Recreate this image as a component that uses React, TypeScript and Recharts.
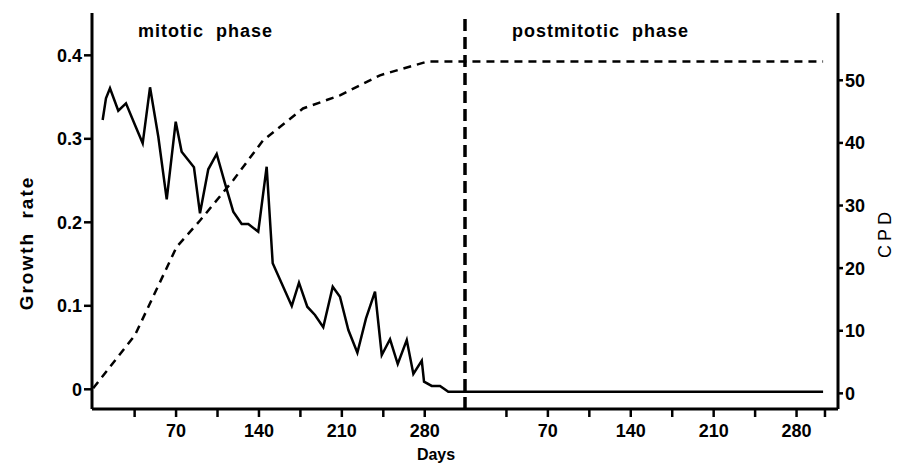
import React from 'react'
import { LineChart, Line, XAxis, YAxis, ReferenceLine } from 'recharts'

// day on which the mitotic phase ends (the dashed divider)
const phaseBoundary = 314

const growthDays = [
  8, 10.8, 14.2, 21.2, 27.7, 35.3, 41.8, 48, 55, 62.1, 69.7, 74.7, 85.1, 90.2, 97.2, 104.3, 111.3,
  118.3, 125.4, 131, 139.4, 146.5, 151.6, 167.7, 173.8, 180.8, 187.3, 194.3, 202.3, 208.4, 215.5,
  223.1, 230.4, 238, 243.7, 250.7, 257.2, 264.8, 270.4, 277.5, 279.4, 285.9, 292.9, 299.9, 616.4,
]
const growthRates = [
  0.3225, 0.3485, 0.3605, 0.3337, 0.3425, 0.3165, 0.2946, 0.3617, 0.3025, 0.2275, 0.3205, 0.2846,
  0.2659, 0.2108, 0.2635, 0.2818, 0.2467, 0.2127, 0.198, 0.198, 0.1887, 0.2666, 0.1509, 0.0998,
  0.1277, 0.0989, 0.089, 0.0743, 0.1229, 0.1109, 0.071, 0.0438, 0.085, 0.1169, 0.0411, 0.0599,
  0.0303, 0.059, 0.0183, 0.0343, 0.0091, 0.004, 0.004, -0.003, -0.003,
]

const cpdDays = [0, 35.3, 70.5, 90.2, 118.1, 143.4, 177.2, 208.4, 242.2, 282.3, 616.4]
const cpdValues = [0.8, 9.3, 23.4, 27.6, 34, 40.4, 45.5, 47.6, 50.8, 53, 53]

const mitoticTicks = [35, 70, 105, 140, 175, 210, 245, 280]
const postmitoticTicks = [35, 70, 105, 140, 175, 210, 245, 280, 304]
const rateTicks = [0, 0.1, 0.2, 0.3, 0.4]
const cpdTicks = [0, 10, 20, 30, 40, 50]

const growthData = growthDays.map((day, i) => ({ day, rate: growthRates[i] }))
const cpdData = cpdDays.map((day, i) => ({ day, cpd: cpdValues[i] }))
const xTicks = [...mitoticTicks, ...postmitoticTicks.map((t) => t + phaseBoundary)]

const font = '"Liberation Sans", Arial, sans-serif'
const tickStyle = { fill: '#000', fontSize: 18, fontFamily: font, fontWeight: 600 }
const axisLine = { stroke: '#000', strokeWidth: 3 }
const tickLine = { stroke: '#000', strokeWidth: 2.5 }

const formatDay = (v: number) => {
  const d = v < phaseBoundary ? v : v - phaseBoundary
  return d % 70 === 0 ? String(d) : ''
}

export default function App() {
  return (
    <div style={{ position: 'absolute', left: 0, top: 0, width: 903, height: 464, background: '#fff', fontFamily: font }}>
      <LineChart width={903} height={464} margin={{ top: 13, right: 0, bottom: 0, left: 0 }}>
        <XAxis
          dataKey="day"
          type="number"
          domain={[-1, 629]}
          ticks={xTicks}
          interval={0}
          tickFormatter={formatDay}
          height={55}
          tickSize={8}
          tickMargin={7}
          axisLine={axisLine}
          tickLine={tickLine}
          tick={tickStyle}
        />
        <XAxis xAxisId="top" orientation="top" type="number" domain={[-1, 629]} height={0} tick={false} tickLine={false} axisLine={axisLine} />
        <YAxis
          yAxisId="left"
          type="number"
          domain={[-0.0236, 0.4507]}
          ticks={rateTicks}
          tickFormatter={(v: number) => (v === 0 ? '0' : v.toFixed(1))}
          width={92}
          tickSize={8}
          axisLine={axisLine}
          tickLine={tickLine}
          tick={tickStyle}
        />
        <YAxis
          yAxisId="right"
          orientation="right"
          type="number"
          domain={[-2.5, 60.75]}
          ticks={cpdTicks}
          width={65}
          tickSize={5}
          axisLine={axisLine}
          tickLine={tickLine}
          tick={tickStyle}
        />
        <ReferenceLine x={phaseBoundary} yAxisId="left" stroke="#000" strokeWidth={3.5} strokeDasharray="12 6" />
        <Line
          yAxisId="right"
          data={cpdData}
          dataKey="cpd"
          type="linear"
          stroke="#000"
          strokeWidth={2.5}
          strokeDasharray="8 6"
          dot={false}
          isAnimationActive={false}
        />
        <Line
          yAxisId="left"
          data={growthData}
          dataKey="rate"
          type="linear"
          stroke="#000"
          strokeWidth={2.5}
          dot={false}
          isAnimationActive={false}
        />
      </LineChart>
      <div style={{ position: 'absolute', left: 138, top: 21, fontSize: 18, fontWeight: 600, letterSpacing: 1, wordSpacing: 6, whiteSpace: 'nowrap' }}>
        mitotic phase
      </div>
      <div style={{ position: 'absolute', left: 512, top: 21, fontSize: 18, fontWeight: 600, letterSpacing: 1, wordSpacing: 6, whiteSpace: 'nowrap' }}>
        postmitotic phase
      </div>
      <div style={{ position: 'absolute', left: 27, top: 243, transform: 'translate(-50%, -50%) rotate(-90deg)', fontSize: 19, fontWeight: 600, letterSpacing: 2, wordSpacing: 6, whiteSpace: 'nowrap' }}>
        Growth rate
      </div>
      <div style={{ position: 'absolute', left: 885, top: 233, transform: 'translate(-50%, -50%) rotate(-90deg)', fontSize: 18, letterSpacing: 4, whiteSpace: 'nowrap' }}>
        CPD
      </div>
      <div style={{ position: 'absolute', left: 436, top: 455, transform: 'translate(-50%, -50%)', fontSize: 16, fontWeight: 700, whiteSpace: 'nowrap' }}>
        Days
      </div>
    </div>
  )
}
